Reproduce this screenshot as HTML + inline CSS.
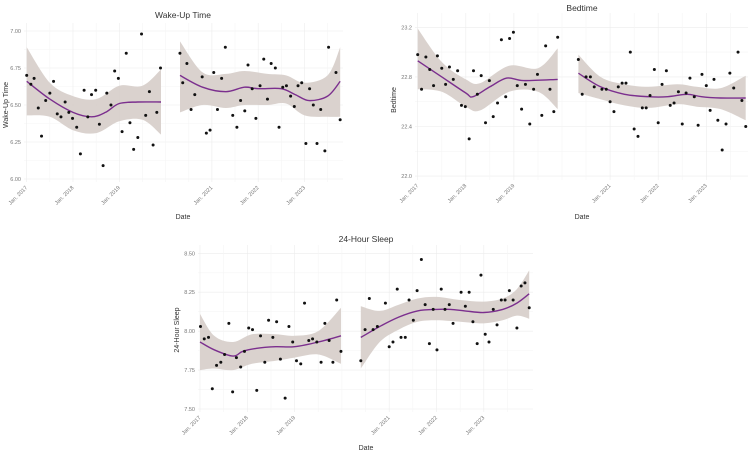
<!DOCTYPE html>
<html><head><meta charset="utf-8"><style>
body{margin:0;background:#fff;}
svg{display:block;font-family:"Liberation Sans",sans-serif;}
</style></head><body>
<svg id="chart" width="750" height="453" viewBox="0 0 750 453"></svg>
<script>
// ---------- Wake-Up Time data ----------
const wakeDates1=[2017.0,2017.09,2017.16,2017.25,2017.32,2017.41,2017.5,2017.58,2017.66,2017.74,2017.83,2017.91,2017.99,2018.08,2018.16,2018.24,2018.32,2018.4,2018.49,2018.57,2018.65,2018.73,2018.82,2018.9,2018.98,2019.06,2019.15,2019.23,2019.31,2019.4,2019.48,2019.57,2019.65,2019.73,2019.81,2019.89];
const wakeValues1=[6.70,6.64,6.68,6.48,6.29,6.53,6.58,6.66,6.44,6.42,6.52,6.45,6.41,6.35,6.17,6.60,6.42,6.57,6.60,6.37,6.09,6.58,6.50,6.73,6.68,6.32,6.85,6.38,6.20,6.28,6.98,6.43,6.59,6.23,6.45,6.75];
const wakeDates2=[2020.31,2020.37,2020.46,2020.55,2020.63,2020.79,2020.88,2020.96,2021.04,2021.12,2021.21,2021.29,2021.45,2021.54,2021.62,2021.71,2021.78,2021.87,2021.95,2022.04,2022.12,2022.2,2022.28,2022.37,2022.45,2022.53,2022.61,2022.7,2022.78,2022.86,2022.94,2023.03,2023.11,2023.19,2023.27,2023.35,2023.44,2023.52,2023.68,2023.77];
const wakeValues2=[6.85,6.65,6.78,6.47,6.57,6.69,6.31,6.33,6.72,6.47,6.68,6.89,6.43,6.35,6.53,6.46,6.77,6.61,6.41,6.63,6.81,6.54,6.78,6.75,6.35,6.62,6.63,6.56,6.49,6.63,6.65,6.24,6.61,6.50,6.24,6.47,6.19,6.89,6.72,6.40];
const wakeFitX1=[2017,2017.5,2018,2018.4,2018.7,2019,2019.4,2019.9];
const wakeFit1=[6.66,6.54,6.45,6.42,6.45,6.51,6.52,6.52];
const wakeBandX1=[2017,2017.5,2018,2018.5,2019,2019.5,2019.9];
const wakeUpper1=[6.89,6.65,6.56,6.54,6.63,6.63,6.74];
const wakeLower1=[6.43,6.42,6.33,6.31,6.39,6.40,6.30];
const wakeFitX2=[2020.31,2020.8,2021.3,2021.7,2022,2022.5,2022.8,2023.1,2023.5,2023.77];
const wakeFit2=[6.70,6.62,6.59,6.62,6.61,6.61,6.57,6.53,6.56,6.66];
const wakeBandX2=[2020.31,2020.8,2021.3,2021.7,2022.2,2022.6,2023,2023.5,2023.77];
const wakeUpper2=[6.93,6.72,6.71,6.73,6.71,6.70,6.65,6.70,6.89];
const wakeLower2=[6.45,6.50,6.48,6.50,6.50,6.51,6.43,6.42,6.42];
const wakeTicks=[6.00,6.25,6.50,6.75,7.00];
const wakeTickLabels=["6.00","6.25","6.50","6.75","7.00"];

// ---------- Bedtime data ----------
const bedDates1=[2017.0,2017.08,2017.17,2017.25,2017.33,2017.41,2017.5,2017.58,2017.66,2017.74,2017.83,2017.91,2017.99,2018.07,2018.16,2018.24,2018.32,2018.41,2018.49,2018.57,2018.66,2018.74,2018.83,2018.91,2018.99,2019.07,2019.16,2019.24,2019.33,2019.41,2019.49,2019.58,2019.66,2019.75,2019.83,2019.91];
const bedValues1=[22.98,22.70,22.96,22.86,22.73,22.97,22.87,22.74,22.88,22.78,22.85,22.57,22.56,22.30,22.85,22.66,22.81,22.43,22.77,22.48,22.59,23.10,22.64,23.11,23.16,22.73,22.54,22.74,22.42,22.70,22.82,22.49,23.05,22.70,22.52,23.12];
const bedDates2=[2020.34,2020.42,2020.5,2020.59,2020.67,2020.83,2020.92,2021.0,2021.08,2021.17,2021.25,2021.33,2021.42,2021.5,2021.58,2021.67,2021.75,2021.83,2021.92,2022.0,2022.08,2022.17,2022.25,2022.33,2022.42,2022.5,2022.58,2022.66,2022.75,2022.83,2022.91,2023.0,2023.08,2023.16,2023.24,2023.33,2023.41,2023.49,2023.57,2023.66,2023.74,2023.82];
const bedValues2=[22.94,22.66,22.80,22.80,22.72,22.70,22.70,22.60,22.52,22.72,22.75,22.75,23.00,22.38,22.32,22.55,22.55,22.65,22.86,22.43,22.74,22.85,22.57,22.59,22.68,22.42,22.67,22.79,22.64,22.41,22.82,22.73,22.53,22.78,22.45,22.21,22.42,22.83,22.71,23.00,22.61,22.40];
const bedFitX1=[2017,2017.5,2018,2018.15,2018.5,2018.85,2019.2,2019.91];
const bedFit1=[22.93,22.80,22.67,22.64,22.72,22.79,22.77,22.78];
const bedBandX1=[2017,2017.5,2018,2018.3,2018.9,2019.5,2019.91];
const bedUpper1=[23.19,22.92,22.78,22.75,22.89,22.87,23.03];
const bedLower1=[22.70,22.68,22.56,22.53,22.68,22.68,22.54];
const bedFitX2=[2020.34,2020.8,2021.3,2021.8,2022.2,2022.6,2022.9,2023.3,2023.82];
const bedFit2=[22.83,22.72,22.66,22.64,22.64,22.66,22.64,22.63,22.63];
const bedBandX2=[2020.34,2020.8,2021.3,2021.8,2022.4,2022.8,2023.3,2023.82];
const bedUpper2=[22.98,22.80,22.74,22.72,22.74,22.72,22.71,22.81];
const bedLower2=[22.67,22.62,22.57,22.55,22.58,22.56,22.54,22.45];
const bedTicks=[22.0,22.4,22.8,23.2];
const bedTickLabels=["22.0","22.4","22.8","23.2"];

// ---------- 24-Hour Sleep data ----------
const sleepDates1=[2017.01,2017.09,2017.18,2017.26,2017.35,2017.44,2017.52,2017.61,2017.69,2017.77,2017.86,2017.94,2018.03,2018.11,2018.2,2018.28,2018.37,2018.45,2018.54,2018.62,2018.7,2018.8,2018.88,2018.96,2019.04,2019.13,2019.21,2019.3,2019.38,2019.47,2019.56,2019.64,2019.73,2019.81,2019.89,2019.98];
const sleepValues1=[8.03,7.95,7.96,7.63,7.78,7.80,7.85,8.05,7.61,7.83,7.77,7.87,8.02,8.01,7.62,7.97,7.80,8.07,7.96,8.06,7.82,7.57,8.03,7.93,7.81,7.79,8.18,7.94,7.95,7.93,7.80,8.05,7.94,7.80,8.20,7.87];
const sleepDates2=[2020.4,2020.49,2020.58,2020.66,2020.75,2020.92,2021.0,2021.08,2021.17,2021.25,2021.34,2021.42,2021.51,2021.59,2021.68,2021.76,2021.85,2021.93,2022.01,2022.1,2022.18,2022.27,2022.35,2022.52,2022.61,2022.69,2022.77,2022.86,2022.94,2023.03,2023.11,2023.2,2023.28,2023.37,2023.45,2023.54,2023.62,2023.7,2023.79,2023.87,2023.96];
const sleepValues2=[7.81,8.01,8.21,8.01,8.03,8.18,7.90,7.93,8.27,7.96,7.96,8.20,8.07,8.26,8.46,8.17,7.92,8.14,7.88,8.27,8.14,8.17,8.05,8.25,8.16,8.25,8.06,7.92,8.36,7.98,7.93,8.14,8.04,8.20,8.20,8.26,8.20,8.02,8.29,8.31,8.15];
const sleepFitX1=[2017,2017.3,2017.7,2017.9,2018.2,2018.6,2019,2019.5,2019.98];
const sleepFit1=[7.93,7.88,7.84,7.87,7.89,7.90,7.90,7.93,7.97];
const sleepBandX1=[2017,2017.3,2017.7,2018.1,2018.6,2019,2019.5,2019.98];
const sleepUpper1=[8.11,7.97,7.93,7.98,7.98,7.97,8.00,8.15];
const sleepLower1=[7.75,7.76,7.75,7.79,7.81,7.83,7.85,7.79];
const sleepFitX2=[2020.4,2020.8,2021.2,2021.6,2022,2022.3,2022.6,2023,2023.4,2023.7,2023.96];
const sleepFit2=[7.96,8.03,8.09,8.13,8.14,8.14,8.13,8.12,8.14,8.18,8.24];
const sleepBandX2=[2020.4,2020.8,2021.2,2021.6,2022,2022.5,2023,2023.4,2023.7,2023.96];
const sleepUpper2=[8.16,8.13,8.17,8.21,8.22,8.20,8.19,8.21,8.27,8.39];
const sleepLower2=[7.76,7.93,8.01,8.06,8.07,8.06,8.05,8.07,8.10,8.08];
const sleepTicks=[7.50,7.75,8.00,8.25,8.50];
const sleepTickLabels=["7.50","7.75","8.00","8.25","8.50"];

const yearTicks=[2017,2018,2019,2021,2022,2023];
const yearTickLabels=["Jan. 2017","Jan. 2018","Jan. 2019","Jan. 2021","Jan. 2022","Jan. 2023"];

const NS="http://www.w3.org/2000/svg";
const svg=document.getElementById('chart');
function mk(tag,attrs,parent){const e=document.createElementNS(NS,tag);for(const k in attrs)e.setAttribute(k,attrs[k]);parent.appendChild(e);return e;}
function smoothPath(xs,ys){let d='';for(let i=0;i<xs.length;i++){d+=(i?'L':'M')+xs[i].toFixed(1)+','+ys[i].toFixed(1);}return d;}
// Catmull-Rom
function curve(pts){let d='M'+pts[0][0].toFixed(1)+','+pts[0][1].toFixed(1);for(let i=0;i<pts.length-1;i++){const p0=pts[i-1]||pts[i],p1=pts[i],p2=pts[i+1],p3=pts[i+2]||p2;const c1x=p1[0]+(p2[0]-p0[0])/6,c1y=p1[1]+(p2[1]-p0[1])/6,c2x=p2[0]-(p3[0]-p1[0])/6,c2y=p2[1]-(p3[1]-p1[1])/6;d+=`C${c1x.toFixed(1)},${c1y.toFixed(1)} ${c2x.toFixed(1)},${c2y.toFixed(1)} ${p2[0].toFixed(1)},${p2[1].toFixed(1)}`;}return d;}

function panel(cfg){
  const g=mk('g',{},svg);
  
  
  const xs=v=>cfg.x0+(v-2017)*cfg.xPerYear;
  const ys=v=>cfg.y0+(cfg.yTop-v)*cfg.yPerUnit;
  // grid
  const grid=mk('g',{stroke:'#ececec','stroke-width':0.6},g);
  
  
  for(let i=0;i<cfg.ticks.length;i++){
    const y=ys(cfg.ticks[i]);
    mk('line',{x1:cfg.left,x2:cfg.right,y1:y,y2:y},grid);
    if(i<cfg.ticks.length-1){const ym=ys((cfg.ticks[i]+cfg.ticks[i+1])/2);mk('line',{x1:cfg.left,x2:cfg.right,y1:ym,y2:ym,stroke:'#f5f5f5'},grid);}
  }
  for(let yr=2017;yr<=2023;yr++){const x=xs(yr);mk('line',{x1:x,x2:x,y1:cfg.top,y2:cfg.bottom,stroke:yearTicks.includes(yr)?'#ececec':'#f5f5f5'},grid);
    const xm=xs(yr+0.5);if(xm<cfg.right)mk('line',{x1:xm,x2:xm,y1:cfg.top,y2:cfg.bottom,stroke:'#f5f5f5'},grid);}
  // y tick labels
  for(let i=0;i<cfg.ticks.length;i++){
    const t=mk('text',{x:cfg.left-3,y:ys(cfg.ticks[i])+2,'font-size':5.5,fill:'#777','text-anchor':'end'},g);
    
    
    t.textContent=cfg.tickLabels[i];
  }
  // x tick labels
  for(let i=0;i<yearTicks.length;i++){
    const x=xs(yearTicks[i])+1,y=cfg.bottom+6;
    const t=mk('text',{x:x,y:y,'font-size':5.5,fill:'#777','text-anchor':'end',transform:`rotate(-45 ${x} ${y})`},g);
    
    
    t.textContent=yearTickLabels[i];
  }
  // bands + fits
  for(const s of cfg.segs){
    const up=s.bx.map((v,i)=>[xs(v),ys(s.up[i])]);
    const lo=s.bx.map((v,i)=>[xs(v),ys(s.lo[i])]).reverse();
    const dUp=curve(up),dLo=curve(lo).replace(/^M/,'L');
    const band=mk('path',{d:dUp+dLo+'Z',fill:'#d6cdc9','fill-opacity':0.9},g);
    
    
  }
  for(const s of cfg.segs){
    const pts=s.fx.map((v,i)=>[xs(v),ys(s.fit[i])]);
    const line=mk('path',{d:curve(pts),fill:'none',stroke:'#7b2f8e','stroke-width':1.4},g);
    
    
  }
  for(const s of cfg.segs){
    for(let i=0;i<s.dx.length;i++){
      const c=mk('circle',{cx:xs(s.dx[i]),cy:ys(s.dv[i]),r:1.5,fill:'#111'},g);
      
      
    }
  }
  const title=mk('text',{x:cfg.titleX,y:cfg.titleY,'font-size':8.5,fill:'#333','text-anchor':'middle'},g);
  
  
  title.textContent=cfg.title;
  const xt=mk('text',{x:cfg.titleX,y:cfg.dateY,'font-size':7,fill:'#333','text-anchor':'middle'},g);
  
  
  xt.textContent='Date';
  const yt=mk('text',{x:cfg.yTitleX,y:cfg.yTitleY,'font-size':7,fill:'#333','text-anchor':'middle',transform:`rotate(-90 ${cfg.yTitleX} ${cfg.yTitleY})`},g);
  
  
  yt.textContent=cfg.yTitle;
}

panel({name:'wake-up-time-panel',title:'Wake-Up Time',yTitle:'Wake-Up Time',x0:26.7,xPerYear:46.3,y0:31,yTop:7.0,yPerUnit:148,left:24,right:343,top:23,bottom:182,
  ticks:wakeTicks,tickLabels:wakeTickLabels,titleX:183,titleY:18,dateY:219,yTitleX:8,yTitleY:105,
  segs:[{dx:wakeDates1,dv:wakeValues1,fx:wakeFitX1,fit:wakeFit1,bx:wakeBandX1,up:wakeUpper1,lo:wakeLower1},
        {dx:wakeDates2,dv:wakeValues2,fx:wakeFitX2,fit:wakeFit2,bx:wakeBandX2,up:wakeUpper2,lo:wakeLower2}]});
panel({name:'bedtime-panel',title:'Bedtime',yTitle:'Bedtime',x0:417.7,xPerYear:48.1,y0:27.3,yTop:23.2,yPerUnit:124,left:415,right:748,top:13,bottom:180,
  ticks:bedTicks,tickLabels:bedTickLabels,titleX:582,titleY:11,dateY:219,yTitleX:396,yTitleY:100,
  segs:[{dx:bedDates1,dv:bedValues1,fx:bedFitX1,fit:bedFit1,bx:bedBandX1,up:bedUpper1,lo:bedLower1},
        {dx:bedDates2,dv:bedValues2,fx:bedFitX2,fit:bedFit2,bx:bedBandX2,up:bedUpper2,lo:bedLower2}]});
panel({name:'sleep-panel',title:'24-Hour Sleep',yTitle:'24-Hour Sleep',x0:200,xPerYear:47.3,y0:253.3,yTop:8.5,yPerUnit:155.7,left:198,right:533,top:245,bottom:412,
  ticks:sleepTicks,tickLabels:sleepTickLabels,titleX:366,titleY:242,dateY:450,yTitleX:179,yTitleY:330,
  segs:[{dx:sleepDates1,dv:sleepValues1,fx:sleepFitX1,fit:sleepFit1,bx:sleepBandX1,up:sleepUpper1,lo:sleepLower1},
        {dx:sleepDates2,dv:sleepValues2,fx:sleepFitX2,fit:sleepFit2,bx:sleepBandX2,up:sleepUpper2,lo:sleepLower2}]});
</script>
</body></html>
